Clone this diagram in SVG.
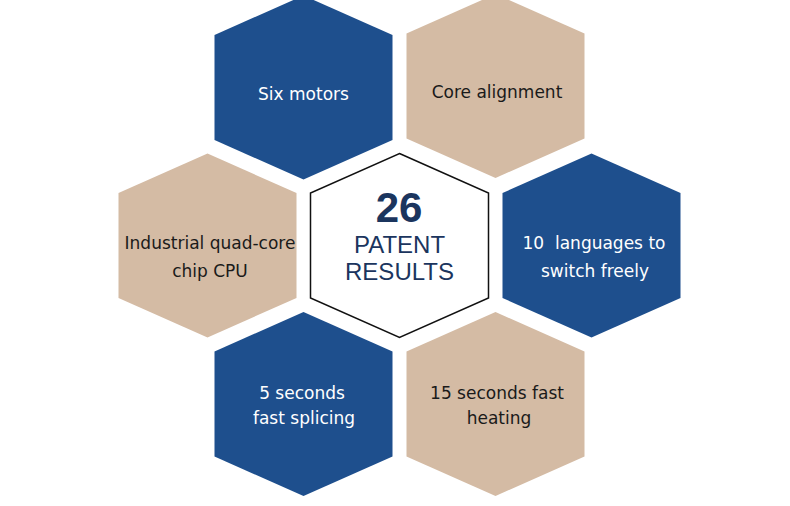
<svg xmlns="http://www.w3.org/2000/svg" xmlns:xlink="http://www.w3.org/1999/xlink" width="790" height="506" viewBox="0 0 790 506">
<style>
.blue{fill:#1e4f8d}
.tan{fill:#d4bba4}
.core{fill:#ffffff;stroke:#111111;stroke-width:1.5}
.lbl{font-family:"DejaVu Sans","Liberation Sans",sans-serif;font-size:17px;text-anchor:middle}
.w{fill:#ffffff}
.d{fill:#1a1a1a}
.c{font-family:"Liberation Sans",Arial,sans-serif;fill:#1b355e;text-anchor:middle}
</style>
<defs>
<polygon id="hex" points="0,-92 89,-52.5 89,52.5 0,92 -89,52.5 -89,-52.5"/>
</defs>
<rect width="790" height="506" fill="#ffffff"/>
<g id="connectors"></g>
<g id="six-motors">
<use xlink:href="#hex" href="#hex" class="blue" transform="translate(303.5,87.5)"/>
<text class="lbl w" x="303.5" y="100">Six motors</text>
</g>
<g id="core-alignment">
<use xlink:href="#hex" href="#hex" class="tan" transform="translate(495.5,86)"/>
<text class="lbl d" x="497" y="98">Core alignment</text>
</g>
<g id="cpu">
<use xlink:href="#hex" href="#hex" class="tan" transform="translate(207.5,245.5)"/>
<text class="lbl d" x="210" y="249">Industrial quad-core</text>
<text class="lbl d" x="210" y="277">chip CPU</text>
</g>
<g id="center">
<use xlink:href="#hex" href="#hex" class="core" transform="translate(399.5,245.5)"/>
<text class="c" x="399" y="222" font-size="42" font-weight="bold">26</text>
<text class="c" x="399.5" y="253" font-size="24">PATENT</text>
<text class="c" x="399.5" y="280" font-size="24">RESULTS</text>
</g>
<g id="languages">
<use xlink:href="#hex" href="#hex" class="blue" transform="translate(591.5,245.5)"/>
<text class="lbl w" x="594" y="249" xml:space="preserve">10  languages to</text>
<text class="lbl w" x="595" y="277">switch freely</text>
</g>
<g id="splicing">
<use xlink:href="#hex" href="#hex" class="blue" transform="translate(303.5,404)"/>
<text class="lbl w" x="302" y="399">5 seconds</text>
<text class="lbl w" x="304" y="424">fast splicing</text>
</g>
<g id="heating">
<use xlink:href="#hex" href="#hex" class="tan" transform="translate(495.5,404)"/>
<text class="lbl d" x="497" y="399">15 seconds fast</text>
<text class="lbl d" x="499" y="424">heating</text>
</g>
</svg>
